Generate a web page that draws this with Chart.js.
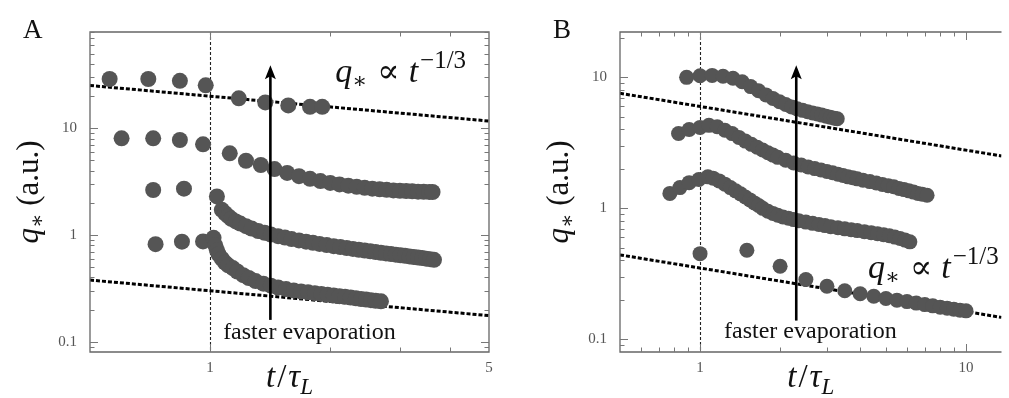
<!DOCTYPE html>
<html>
<head>
<meta charset="utf-8">
<script src="https://cdn.jsdelivr.net/npm/chart.js@4.4.1/dist/chart.umd.min.js"></script>
<style>
  html, body { margin: 0; padding: 0; background: #fff; }
  #wrap { position: relative; width: 1009px; height: 398px; overflow: hidden; }
  #chartA { position: absolute; left: 0; top: 0; }
  #chartB { position: absolute; left: 530px; top: 0; }
</style>
</head>
<body>
<div id="wrap">
  <canvas id="chartA" width="500" height="398"></canvas>
  <canvas id="chartB" width="479" height="398"></canvas>
</div>
<script>
// Fonts and colours
const SERIF = '"Liberation Serif", "DejaVu Serif", serif';
const DOT = '#555555';

// ---- Panel A: t/tau_L vs q* ----
const tA1 = [0.56, 0.70, 0.84, 0.975, 1.18, 1.375, 1.57, 1.78, 1.91];
const qA1 = [29.0, 29.0, 27.9, 25.3, 19.1, 17.5, 16.4, 15.9, 15.9];

const tA2 = [0.60, 0.72, 0.84, 0.96, 1.12, 1.23, 1.34, 1.45, 1.56, 1.67, 1.78, 1.89, 2.00, 2.11,
             2.22, 2.33, 2.44, 2.55, 2.66, 2.77, 2.88, 2.99, 3.10, 3.21, 3.32, 3.43, 3.54, 3.61];
const qA2 = [8.06, 8.06, 7.77, 7.08, 5.83, 4.97, 4.53, 4.15, 3.82, 3.56, 3.36, 3.20, 3.08, 2.98,
             2.90, 2.83, 2.77, 2.72, 2.68, 2.65, 2.62, 2.60, 2.58, 2.565, 2.55, 2.54, 2.535, 2.53];

const tA3 = [0.72, 0.86, 1.04, 1.07, 1.09, 1.11, 1.13, 1.16, 1.19, 1.23, 1.27, 1.32, 1.37, 1.42,
             1.48, 1.54, 1.60, 1.67, 1.74, 1.81, 1.88, 1.96, 2.04, 2.12, 2.20, 2.28, 2.36, 2.44,
             2.52, 2.60, 2.68, 2.76, 2.84, 2.92, 3.00, 3.08, 3.16, 3.24, 3.32, 3.40, 3.48, 3.56, 3.64];
const qA3 = [2.64, 2.72, 2.30, 1.72, 1.60, 1.50, 1.42, 1.34, 1.28, 1.21, 1.15, 1.09, 1.05, 1.01,
             0.975, 0.945, 0.915, 0.89, 0.865, 0.845, 0.825, 0.805, 0.785, 0.77, 0.755, 0.74, 0.727, 0.715,
             0.703, 0.692, 0.682, 0.672, 0.663, 0.654, 0.646, 0.638, 0.630, 0.622, 0.615, 0.607, 0.600, 0.593, 0.585];

const tA4 = [0.73, 0.85, 0.96, 1.02, 1.03, 1.04, 1.05, 1.07, 1.09, 1.11, 1.14, 1.17, 1.21, 1.25,
             1.30, 1.36, 1.42, 1.48, 1.55, 1.62, 1.69, 1.76, 1.83, 1.90, 1.97, 2.04, 2.11, 2.18,
             2.25, 2.32, 2.39, 2.46, 2.53, 2.60, 2.68];
const qA4 = [0.82, 0.865, 0.87, 0.94, 0.80, 0.72, 0.66, 0.60, 0.55, 0.52, 0.49, 0.455, 0.42, 0.395,
             0.37, 0.35, 0.335, 0.322, 0.311, 0.302, 0.296, 0.290, 0.285, 0.280, 0.275, 0.271, 0.267, 0.263,
             0.259, 0.255, 0.251, 0.248, 0.245, 0.242, 0.239];

// q* ~ t^(-1/3) guide lines (end points)
const tFitA = [0.5, 5];
const qFitHighA = [25.2, 11.7];
const qFitLowA = [0.378, 0.1754];

// ---- Panel B ----
const tB1 = [0.89, 1.00, 1.11, 1.22, 1.33, 1.44, 1.55, 1.66, 1.77, 1.88, 1.99, 2.10, 2.21, 2.32,
             2.43, 2.54, 2.65, 2.76, 2.87, 2.98, 3.09, 3.20, 3.28];
const qB1 = [10.0, 10.3, 10.35, 10.2, 9.85, 9.25, 8.5, 7.9, 7.35, 6.9, 6.52, 6.2, 5.95, 5.75,
             5.6, 5.47, 5.35, 5.25, 5.15, 5.05, 4.96, 4.88, 4.83];

const tB2 = [0.83, 0.91, 1.00, 1.08, 1.16, 1.24, 1.32, 1.40, 1.48, 1.56, 1.64, 1.72, 1.80, 1.88,
             1.96, 2.10, 2.25, 2.40, 2.55, 2.70, 2.85, 3.00, 3.15, 3.30, 3.45, 3.60, 3.75, 3.90,
             4.10, 4.35, 4.60, 4.85, 5.10, 5.35, 5.60, 5.85, 6.10, 6.35, 6.60, 6.85, 7.14];
const qB2 = [3.73, 4.0, 4.15, 4.3, 4.2, 3.95, 3.72, 3.48, 3.26, 3.08, 2.93, 2.79, 2.66, 2.55,
             2.45, 2.33, 2.22, 2.14, 2.07, 2.01, 1.96, 1.91, 1.87, 1.82, 1.78, 1.74, 1.71, 1.68,
             1.64, 1.60, 1.56, 1.52, 1.49, 1.46, 1.42, 1.39, 1.36, 1.33, 1.30, 1.28, 1.26];

const tB3 = [0.77, 0.84, 0.91, 0.99, 1.07, 1.12, 1.18, 1.24, 1.30, 1.36, 1.42, 1.48, 1.54, 1.60,
             1.66, 1.72, 1.80, 1.88, 1.96, 2.05, 2.15, 2.25, 2.35, 2.50, 2.65, 2.80, 2.95, 3.10,
             3.30, 3.50, 3.70, 3.90, 4.15, 4.40, 4.65, 4.90, 5.15, 5.40, 5.65, 5.90, 6.15];
const qB3 = [1.30, 1.44, 1.57, 1.66, 1.74, 1.70, 1.62, 1.53, 1.44, 1.36, 1.29, 1.22, 1.16, 1.10,
             1.05, 1.00, 0.95, 0.915, 0.885, 0.86, 0.84, 0.82, 0.805, 0.785, 0.768, 0.752, 0.738, 0.725,
             0.71, 0.697, 0.686, 0.676, 0.664, 0.652, 0.640, 0.629, 0.617, 0.603, 0.588, 0.572, 0.555];

const tB4 = [1.0, 1.5, 2.0, 2.5, 3.0, 3.5, 4.0, 4.5, 5.0, 5.5, 6.0, 6.5, 7.0, 7.5, 8.0, 8.5, 9.0, 9.5, 10.0];
const qB4 = [0.451, 0.478, 0.361, 0.286, 0.254, 0.235, 0.223, 0.213, 0.205, 0.199, 0.194, 0.189,
             0.184, 0.180, 0.176, 0.173, 0.170, 0.167, 0.165];

const tFitB = [0.5, 13.6];
const qFitHighB = [7.56, 2.51];
const qFitLowB = [0.441, 0.147];

// ---- Ticks ----
const yTickLabels = [0.1, 1, 10];
const xTickLabelsA = [1, 5];
const xTickLabelsB = [1, 10];
const yMajorTicks = [0.1, 1, 10];
const yMinorTicks = [0.09, 0.2, 0.3, 0.4, 0.5, 0.6, 0.7, 0.8, 0.9, 2, 3, 4, 5, 6, 7, 8, 9, 20, 30, 40, 50, 60, 70, 80];
const xMajorTicksA = [1];
const xMinorTicksA = [2, 3, 4];
const xMajorTicksB = [1, 10];
const xMinorTicksB = [0.6, 0.7, 0.8, 0.9, 2, 3, 4, 5, 6, 7, 8, 9];

// Draw a sequence of text pieces (italic, sub/superscripts)
function partsWidth(ctx, parts) {
    let w = 0;
    parts.forEach(p => {
        ctx.font = p.font;
        w += ctx.measureText(p.text).width + (p.gap || 0);
    });
    return w;
}

function drawParts(ctx, x, y, parts) {
    parts.forEach(p => {
        ctx.font = p.font;
        ctx.fillText(p.text, x, y + (p.dy || 0));
        x += ctx.measureText(p.text).width + (p.gap || 0);
    });
}

const lawParts = [
    { text: 'q', font: 'italic 34px ' + SERIF },
    { text: '\u2217', font: '22px ' + SERIF, dy: 6, gap: 10 },
    { text: '\u221D', font: '33px ' + SERIF, gap: 9 },
    { text: 't', font: 'italic 34px ' + SERIF, gap: 2 },
    { text: '\u22121/3', font: '25px ' + SERIF, dy: -14 }
];
const xTitleParts = [
    { text: 't', font: 'italic 33px ' + SERIF, gap: 2 },
    { text: '/', font: '33px ' + SERIF, gap: 2 },
    { text: '\u03C4', font: 'italic 33px ' + SERIF },
    { text: 'L', font: 'italic 23px ' + SERIF, dy: 7 }
];
const yTitleParts = [
    { text: 'q', font: 'italic 31px ' + SERIF },
    { text: '\u2217', font: '21px ' + SERIF, dy: 6, gap: 8 },
    { text: '(a.u.)', font: '31px ' + SERIF }
];

// Plugin: frame, inward ticks, t = 1 marker, arrows and labels
const decorPlugin = {
    id: 'decor',
    beforeDatasetsDraw(chart, args, o) {
        const ctx = chart.ctx;
        const a = chart.chartArea;
        const px = Math.round(chart.scales.x.getPixelForValue(1)) + 0.5;
        ctx.save();
        ctx.strokeStyle = '#222';
        ctx.lineWidth = 1.1;
        ctx.setLineDash([3, 2]);
        ctx.beginPath();
        ctx.moveTo(px, a.top);
        ctx.lineTo(px, a.bottom);
        ctx.stroke();
        ctx.restore();
    },
    afterDatasetsDraw(chart, args, o) {
        const ctx = chart.ctx;
        const a = chart.chartArea;
        const xs = chart.scales.x;
        const ys = chart.scales.y;
        ctx.save();

        // frame
        ctx.strokeStyle = '#666';
        ctx.lineWidth = 1.3;
        ctx.beginPath();
        if (o.closed) {
            ctx.rect(a.left, a.top, a.right - a.left, a.bottom - a.top);
        } else {
            ctx.moveTo(a.right, a.top);
            ctx.lineTo(a.left, a.top);
            ctx.lineTo(a.left, a.bottom);
            ctx.lineTo(a.right, a.bottom);
        }
        ctx.stroke();

        // inward ticks
        ctx.strokeStyle = '#777';
        ctx.lineWidth = 1;
        ctx.beginPath();
        const yTick = (v, len) => {
            const p = Math.round(ys.getPixelForValue(v)) + 0.5;
            if (p < a.top || p > a.bottom) return;
            ctx.moveTo(a.left, p); ctx.lineTo(a.left + len, p);
            if (o.closed) { ctx.moveTo(a.right, p); ctx.lineTo(a.right - len, p); }
        };
        const xTick = (v, len) => {
            const p = Math.round(xs.getPixelForValue(v)) + 0.5;
            ctx.moveTo(p, a.bottom); ctx.lineTo(p, a.bottom - len);
            ctx.moveTo(p, a.top); ctx.lineTo(p, a.top + len);
        };
        yMajorTicks.forEach(v => yTick(v, 8));
        yMinorTicks.forEach(v => yTick(v, 4.5));
        o.xMajor.forEach(v => xTick(v, 8));
        o.xMinor.forEach(v => xTick(v, 4.5));
        ctx.stroke();

        // arrow "faster evaporation"
        const ax = xs.getPixelForValue(o.arrow[0]);
        const ay0 = ys.getPixelForValue(o.arrow[1]);
        const ay1 = ys.getPixelForValue(o.arrow[2]);
        ctx.strokeStyle = '#000';
        ctx.fillStyle = '#000';
        ctx.lineWidth = 2.6;
        ctx.beginPath();
        ctx.moveTo(ax, ay0);
        ctx.lineTo(ax, ay1 + 10);
        ctx.stroke();
        ctx.beginPath();
        ctx.moveTo(ax, ay1);
        ctx.lineTo(ax - 5.5, ay1 + 14);
        ctx.lineTo(ax, ay1 + 11);
        ctx.lineTo(ax + 5.5, ay1 + 14);
        ctx.closePath();
        ctx.fill();

        // texts
        ctx.fillStyle = '#111';
        ctx.textBaseline = 'alphabetic';
        ctx.textAlign = 'left';
        ctx.font = '24px ' + SERIF;
        ctx.fillText('faster evaporation', xs.getPixelForValue(o.note[0]), ys.getPixelForValue(o.note[1]));
        drawParts(ctx, xs.getPixelForValue(o.law[0]), ys.getPixelForValue(o.law[1]), lawParts);

        // panel letter
        ctx.font = '27px ' + SERIF;
        ctx.fillText(o.letter, a.left - 67, 38);

        // axis titles
        const xw = partsWidth(ctx, xTitleParts);
        drawParts(ctx, (a.left + a.right) / 2 - xw / 2, 387, xTitleParts);
        const yw = partsWidth(ctx, yTitleParts);
        ctx.translate(a.left - 52, (a.top + a.bottom) / 2);
        ctx.rotate(-Math.PI / 2);
        drawParts(ctx, -yw / 2, 0, yTitleParts);

        ctx.restore();
    }
};

function seriesDataset(t, q, radius) {
    return {
        type: 'scatter',
        data: t.map((v, i) => ({ x: v, y: q[i] })),
        pointRadius: radius,
        pointHoverRadius: radius,
        pointBackgroundColor: DOT,
        pointBorderColor: DOT,
        pointBorderWidth: 0,
        order: 1
    };
}

function fitDataset(t, q) {
    return {
        type: 'line',
        data: t.map((v, i) => ({ x: v, y: q[i] })),
        borderColor: '#000',
        borderWidth: 3,
        borderDash: [4, 2],
        pointRadius: 0,
        fill: false,
        order: 2
    };
}

function criarPainel(id, cfg) {
    const tickFont = { family: SERIF, size: 15 };
    new Chart(document.getElementById(id).getContext('2d'), {
        type: 'scatter',
        data: { datasets: cfg.datasets },
        plugins: [decorPlugin],
        options: {
            responsive: false,
            animation: false,
            events: [],
            layout: { padding: { top: 32, right: cfg.padRight, left: 0, bottom: 0 } },
            plugins: {
                legend: { display: false },
                tooltip: { enabled: false },
                decor: cfg.decor
            },
            scales: {
                x: {
                    type: 'logarithmic',
                    min: cfg.xMin,
                    max: cfg.xMax,
                    grid: { display: false, drawTicks: false },
                    border: { display: false },
                    ticks: {
                        autoSkip: false, maxRotation: 0, padding: 7, color: '#555', font: tickFont,
                        callback: v => String(v)
                    },
                    afterBuildTicks: s => { s.ticks = cfg.xLabels.map(v => ({ value: v })); },
                    afterFit: s => { s.height = 46; s.paddingLeft = 0; s.paddingRight = 0; }
                },
                y: {
                    type: 'logarithmic',
                    min: 0.08,
                    max: cfg.yMax,
                    grid: { display: false, drawTicks: false },
                    border: { display: false },
                    ticks: {
                        autoSkip: false, padding: 13, color: '#555', font: tickFont,
                        callback: v => String(v)
                    },
                    afterBuildTicks: s => { s.ticks = yTickLabels.map(v => ({ value: v })); },
                    afterFit: s => { s.width = 90; s.paddingTop = 0; s.paddingBottom = 0; }
                }
            }
        }
    });
}

criarPainel('chartA', {
    xMin: 0.5, xMax: 5, yMax: 80, padRight: 11,
    xLabels: xTickLabelsA,
    datasets: [
        seriesDataset(tA1, qA1, 8),
        seriesDataset(tA2, qA2, 8),
        seriesDataset(tA3, qA3, 8),
        seriesDataset(tA4, qA4, 8),
        fitDataset(tFitA, qFitHighA),
        fitDataset(tFitA, qFitLowA)
    ],
    decor: {
        closed: true, letter: 'A',
        xMajor: xMajorTicksA, xMinor: xMinorTicksA,
        arrow: [1.416, 0.16, 39],
        note: [1.078, 0.106],
        law: [2.06, 27.3]
    }
});

criarPainel('chartB', {
    xMin: 0.5, xMax: 13.6, yMax: 22.2, padRight: 0,
    xLabels: xTickLabelsB,
    datasets: [
        seriesDataset(tB1, qB1, 7.5),
        seriesDataset(tB2, qB2, 7.5),
        seriesDataset(tB3, qB3, 7.5),
        seriesDataset(tB4, qB4, 7.5),
        fitDataset(tFitB, qFitHighB),
        fitDataset(tFitB, qFitLowB)
    ],
    decor: {
        closed: false, letter: 'B',
        xMajor: xMajorTicksB, xMinor: xMinorTicksB,
        arrow: [2.30, 0.139, 12.4],
        note: [1.231, 0.1015],
        law: [4.28, 0.296]
    }
});
</script>
</body>
</html>
